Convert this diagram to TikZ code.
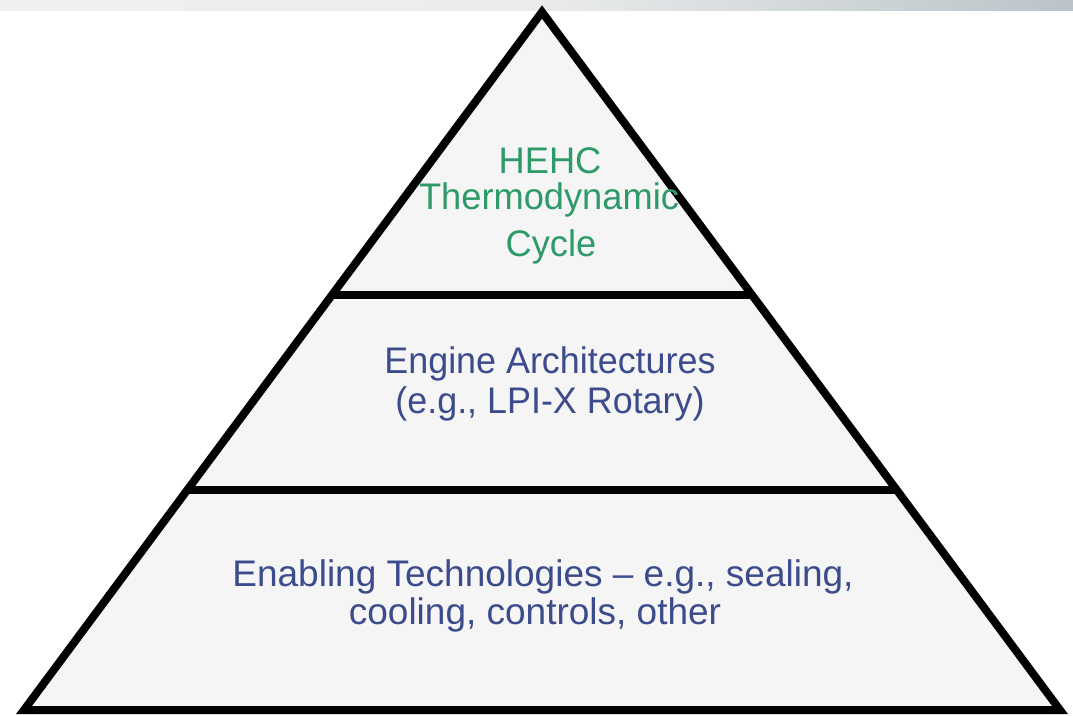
\documentclass[tikz,border=0pt]{standalone}
\usepackage{fontspec}
\setmainfont{Liberation Sans}
\usetikzlibrary{positioning,calc}
\definecolor{tiergreen}{HTML}{2E9A68}
\definecolor{tierblue}{HTML}{3C4B8C}
\definecolor{tierfill}{HTML}{F5F5F5}
\definecolor{barleft}{HTML}{F0F0F0}
\definecolor{barright}{HTML}{BAC4C8}
\begin{document}
\begin{tikzpicture}[x=1pt,y=-1pt]
    \tikzset{
    edge line/.style={line width=8pt, line join=miter},
    label/.style={anchor=base, inner sep=0pt, font=\fontsize{37}{44}\selectfont},
    green label/.style={label, text=tiergreen, xscale=0.98},
    blue label/.style={label, text=tierblue},
    }
    \useasboundingbox (0,0) rectangle (1073,715);

    % Strip along the top.
    \shade [left color=barleft, right color=barright, middle color=barleft!90!barright]
        (0,0) rectangle (1073,10);

    \coordinate (top) at (542,12);   % apex
    \coordinate (bl)  at (24,710);   % bottom left
    \coordinate (br)  at (1060,710); % bottom right

    % Pyramid.
    \fill [tierfill] (top) -- (bl) -- (br) -- cycle;
    \draw [edge line] (top) -- (bl) -- (br) -- cycle;

    % Dividers.
    \draw [edge line] ($(top)!0.4054!(bl)$) -- ($(top)!0.4054!(br)$);
    \draw [edge line] ($(top)!0.6848!(bl)$) -- ($(top)!0.6848!(br)$);

    % Top tier.
    \node [green label] (hehc)   at (550,173) {HEHC};
    \node [green label] (thermo) at (549,209) {Thermodynamic};
    \node [green label] (cycle)  at (551,256) {Cycle};

    % Middle tier.
    \node [blue label, xscale=0.97] (engine) at (550,373) {Engine Architectures};
    \node [blue label, xscale=0.97] (rotary) at (550,413) {(e.g., LPI-X Rotary)};

    % Bottom tier.
    \node [blue label] (enabling) at (543,586) {Enabling Technologies – e.g., sealing,};
    \node [blue label] (cooling)  at (535,624) {cooling, controls, other};
\end{tikzpicture}
\end{document}
